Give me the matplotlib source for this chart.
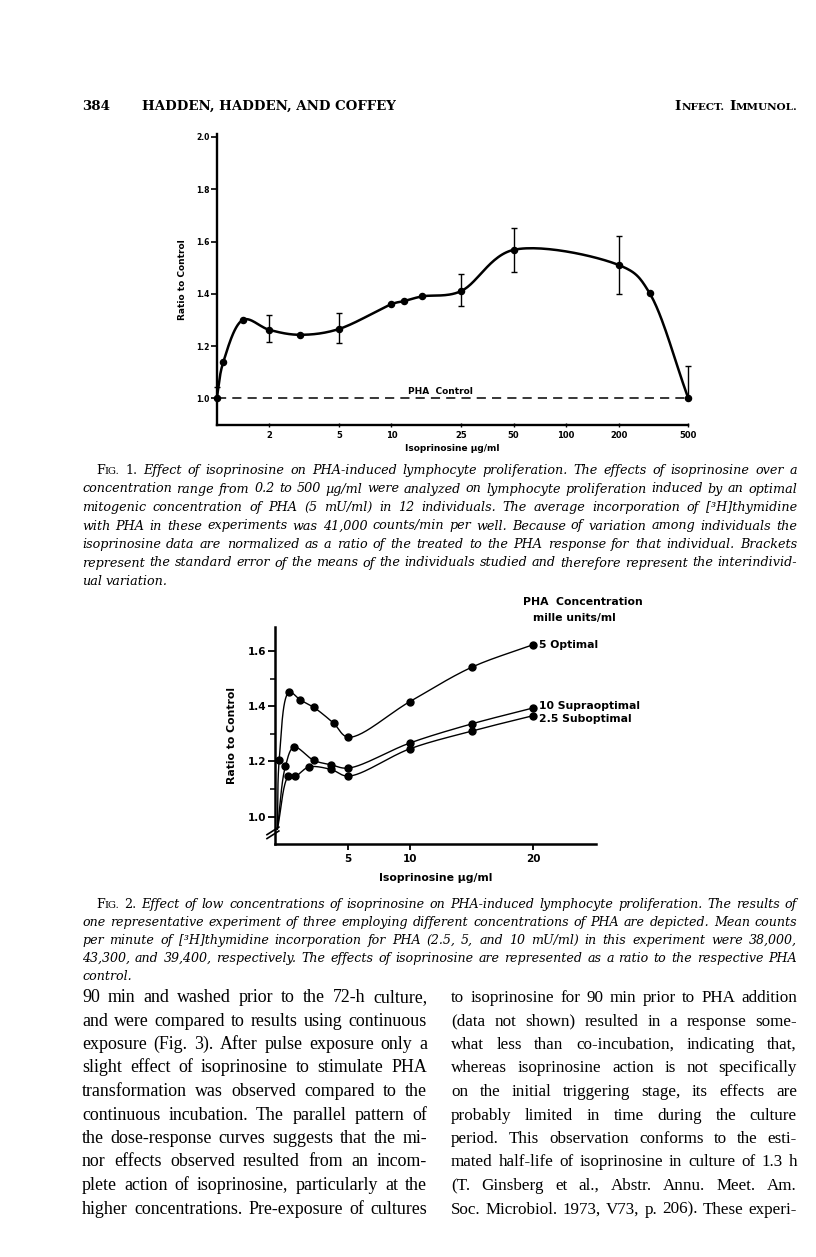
import numpy as np
import matplotlib.pyplot as plt

W, H = 816, 1257

# ---------------- Fig. 1 data ----------------
conc1 = [1.0, 1.09, 1.41, 2, 3, 5, 10, 11.8, 15, 25, 50, 200, 300, 500]
ratio1 = [1.00, 1.138, 1.30, 1.262, 1.243, 1.265, 1.36, 1.372, 1.39, 1.41, 1.568, 1.51, 1.403, 1.00]
err1_lo = [0, 0, 0, 0.045, 0, 0.053, 0, 0, 0, 0.058, 0.084, 0.11, 0, 0]
err1_hi = [0.045, 0, 0, 0.058, 0, 0.062, 0, 0, 0, 0.065, 0.082, 0.11, 0, 0.125]
xticks1 = [2, 5, 10, 25, 50, 100, 200, 500]
yticks1 = [1.0, 1.2, 1.4, 1.6, 1.8, 2.0]

# ---------------- Fig. 2 data ----------------
start2 = (-0.75, 0.955)   # common start of the curves at the axis break
x_opt = [-0.6, 0.2, 1.1, 2.2, 3.8, 5, 10, 15, 20]
y_opt = [1.207, 1.451, 1.423, 1.396, 1.339, 1.288, 1.417, 1.541, 1.623]
x_sup = [-0.1, 0.6, 2.2, 3.6, 5, 10, 15, 20]
y_sup = [1.182, 1.252, 1.204, 1.188, 1.176, 1.267, 1.336, 1.394]
x_sub = [0.15, 0.7, 1.8, 3.6, 5, 10, 15, 20]
y_sub = [1.146, 1.146, 1.18, 1.171, 1.147, 1.246, 1.31, 1.366]
labels2 = ['5 Optimal', '10 Supraoptimal', '2.5 Suboptimal']
xticks2 = [5, 10, 20]
yticks2 = [1.0, 1.2, 1.4, 1.6]

cap1 = [
    "FIG. 1. Effect of isoprinosine on PHA-induced lymphocyte proliferation. The effects of isoprinosine over a",
    "concentration range from 0.2 to 500 µg/ml were analyzed on lymphocyte proliferation induced by an optimal",
    "mitogenic concentration of PHA (5 mU/ml) in 12 individuals. The average incorporation of [³H]thymidine",
    "with PHA in these experiments was 41,000 counts/min per well. Because of variation among individuals the",
    "isoprinosine data are normalized as a ratio of the treated to the PHA response for that individual. Brackets",
    "represent the standard error of the means of the individuals studied and therefore represent the interindivid-",
    "ual variation.",
]
cap2 = [
    "FIG. 2. Effect of low concentrations of isoprinosine on PHA-induced lymphocyte proliferation. The results of",
    "one representative experiment of three employing different concentrations of PHA are depicted. Mean counts",
    "per minute of [³H]thymidine incorporation for PHA (2.5, 5, and 10 mU/ml) in this experiment were 38,000,",
    "43,300, and 39,400, respectively. The effects of isoprinosine are represented as a ratio to the respective PHA",
    "control.",
]
col_left = [
    "90 min and washed prior to the 72-h culture,",
    "and were compared to results using continuous",
    "exposure (Fig. 3). After pulse exposure only a",
    "slight effect of isoprinosine to stimulate PHA",
    "transformation was observed compared to the",
    "continuous incubation. The parallel pattern of",
    "the dose-response curves suggests that the mi-",
    "nor effects observed resulted from an incom-",
    "plete action of isoprinosine, particularly at the",
    "higher concentrations. Pre-exposure of cultures",
]
col_right = [
    "to isoprinosine for 90 min prior to PHA addition",
    "(data not shown) resulted in a response some-",
    "what less than co-incubation, indicating that,",
    "whereas isoprinosine action is not specifically",
    "on the initial triggering stage, its effects are",
    "probably limited in time during the culture",
    "period. This observation conforms to the esti-",
    "mated half-life of isoprinosine in culture of 1.3 h",
    "(T. Ginsberg et al., Abstr. Annu. Meet. Am.",
    "Soc. Microbiol. 1973, V73, p. 206). These experi-",
]

fig = plt.figure(figsize=(W / 100, H / 100), dpi=100)
fig.patch.set_facecolor('white')
rend = fig.canvas.get_renderer()
SANS = 'DejaVu Sans'
SERIF = 'DejaVu Serif'
BODY = 'Liberation Serif'


def box(x0, x1, top, bottom):
    return [x0 / W, 1 - bottom / H, (x1 - x0) / W, (bottom - top) / H]


def catmull(ax, xs, ys, n=30, alpha=0.5):
    # centripetal Catmull-Rom through the points, done in pixel space
    P = ax.transData.transform(np.column_stack([xs, ys]))
    P = np.vstack([2 * P[0] - P[1], P, 2 * P[-1] - P[-2]])
    out = []
    for i in range(len(P) - 3):
        p0, p1, p2, p3 = P[i:i + 4]
        t0 = 0.0
        t1 = t0 + np.linalg.norm(p1 - p0) ** alpha
        t2 = t1 + np.linalg.norm(p2 - p1) ** alpha
        t3 = t2 + np.linalg.norm(p3 - p2) ** alpha
        t = np.linspace(t1, t2, n)[:, None]
        a1 = (t1 - t) / (t1 - t0) * p0 + (t - t0) / (t1 - t0) * p1
        a2 = (t2 - t) / (t2 - t1) * p1 + (t - t1) / (t2 - t1) * p2
        a3 = (t3 - t) / (t3 - t2) * p2 + (t - t2) / (t3 - t2) * p3
        b1 = (t2 - t) / (t2 - t0) * a1 + (t - t0) / (t2 - t0) * a2
        b2 = (t3 - t) / (t3 - t1) * a2 + (t - t1) / (t3 - t1) * a3
        c = (t2 - t) / (t2 - t1) * b1 + (t - t1) / (t2 - t1) * b2
        out.append(c if i == 0 else c[1:])
    D = ax.transData.inverted().transform(np.vstack(out))
    return D[:, 0], D[:, 1]


def width_of(s, size, style='normal', weight='normal', family=SERIF):
    t = fig.text(0, 0, s, fontsize=size, style=style, weight=weight, family=family)
    w = t.get_window_extent(rend).width
    t.remove()
    return w


def word_pieces(w, size, style):
    # small caps for "FIG."
    if w == 'FIG.':
        return [('F', size, 'normal'), ('IG.', size * 0.78, 'normal')]
    if w in ('1.', '2.'):
        return [(w, size, 'normal')]
    return [(w, size, style)]


def paragraph(lines, x0, x1, y0, step, style='normal', indent=0, last_justified=False,
              family=SERIF, fill=0.99):
    # font size so that the widest line just fits
    ratio = 0
    for i, line in enumerate(lines):
        avail = x1 - x0 - (indent if i == 0 else 0)
        ratio = max(ratio, width_of(line, 10, style, family=family) / avail)
    size = 10 * fill / ratio
    space = width_of('a a', size, style, family=family) - width_of('aa', size, style, family=family)
    for i, line in enumerate(lines):
        words = line.split(' ')
        xs = x0 + (indent if i == 0 else 0)
        y = H - (y0 + i * step)
        items = []
        for w in words:
            segs = []
            for s, sz, st in word_pieces(w, size, style):
                t = fig.text(0, y, s, transform=None, fontsize=sz, style=st,
                             family=family, va='baseline', ha='left')
                segs.append((t, t.get_window_extent(rend).width))
            items.append(segs)
        widths = [sum(w for _, w in segs) for segs in items]
        is_last = (i == len(lines) - 1) and not last_justified
        if is_last or len(words) < 2:
            gap = space
        else:
            gap = (x1 - xs - sum(widths)) / (len(words) - 1)
        x = xs
        for segs, wd in zip(items, widths):
            xx = x
            for t, w in segs:
                t.set_x(xx)
                xx += w
            x += wd + gap


# ---------------- running head ----------------
hsize = 9.6
fig.text(82, H - 110, '384', transform=None, fontsize=hsize, family=SERIF, weight='bold', va='baseline')
fig.text(142, H - 110, 'HADDEN, HADDEN, AND COFFEY', transform=None, fontsize=hsize, family=SERIF,
         weight='bold', va='baseline')
parts = [('I', hsize), ('NFECT.', hsize * 0.78), (' ', hsize), ('I', hsize), ('MMUNOL.', hsize * 0.78)]
tot = sum(width_of(p, s, weight='bold') for p, s in parts)
xx = 797 - tot
for p, s in parts:
    fig.text(xx, H - 110, p, transform=None, fontsize=s, family=SERIF, weight='bold', va='baseline')
    xx += width_of(p, s, weight='bold')

# ---------------- Fig. 1 ----------------
ppu1 = 398.3 - 137.0
ax1 = fig.add_axes(box(216.7, 688.3, 137.0 - 0.01 * ppu1, 425.0))
ax1.set_xscale('log')
ax1.set_xlim(1.0, 500)
ax1.set_ylim(1.0 - (425.0 - 398.3) / ppu1, 2.01)
for s in ('top', 'right'):
    ax1.spines[s].set_visible(False)
for s in ('left', 'bottom'):
    ax1.spines[s].set_linewidth(1.7)
ax1.set_xticks(xticks1)
ax1.set_xticklabels([str(v) for v in xticks1])
ax1.xaxis.set_minor_locator(plt.NullLocator())
ax1.set_yticks(yticks1)
ax1.set_yticklabels(['%.1f' % v for v in yticks1])
ax1.tick_params(axis='y', direction='out', length=4, width=1.2, labelsize=5.5, pad=1)
ax1.tick_params(axis='x', direction='inout', length=3, width=1.0, labelsize=6, pad=3)
for lab in ax1.get_xticklabels() + ax1.get_yticklabels():
    lab.set_fontweight('bold')
    lab.set_family(SANS)
ax1.set_ylabel('Ratio to Control', fontsize=6.5, weight='bold', family=SANS, labelpad=7)
ax1.set_xlabel('Isoprinosine µg/ml', fontsize=6.5, weight='bold', family=SANS, labelpad=3)
ax1.axhline(1.0, color='black', lw=1.1, dashes=(6, 4), zorder=1)
ax1.text(19, 1.008, 'PHA  Control', fontsize=6.5, weight='bold', family=SANS, ha='center', va='bottom')
sx, sy = catmull(ax1, conc1, ratio1, alpha=0.3)
ax1.plot(sx, sy, color='black', lw=1.8, solid_capstyle='round')
ax1.errorbar(conc1, ratio1, yerr=[err1_lo, err1_hi], fmt='o', color='black', ms=4.4,
             elinewidth=1.0, capsize=2.2, capthick=1.0, clip_on=False, zorder=3)

# ---------------- Fig. 2 ----------------
ppu2 = (816.7 - 651.0) / 0.6
ppx2 = (533.3 - 348.3) / 15.0
ax2 = fig.add_axes(box(275.0, 596.0, 627.0, 844.0))
ax2.set_xlim(5 - (348.3 - 275.0) / ppx2, 20 + (596.0 - 533.3) / ppx2)
ax2.set_ylim(1.0 - (844.0 - 816.7) / ppu2, 1.6 + (651.0 - 627.0) / ppu2)
for s in ('top', 'right'):
    ax2.spines[s].set_visible(False)
for s in ('left', 'bottom'):
    ax2.spines[s].set_linewidth(1.8)
ax2.set_xticks(xticks2)
ax2.set_xticklabels([str(v) for v in xticks2])
ax2.set_yticks(yticks2)
ax2.set_yticklabels(['%.1f' % v for v in yticks2])
ax2.set_yticks([1.1, 1.3, 1.5], minor=True)
ax2.tick_params(axis='y', which='major', direction='out', length=5, width=1.3, labelsize=7.5, pad=1)
ax2.tick_params(axis='y', which='minor', direction='out', length=3.5, width=1.1)
ax2.tick_params(axis='x', direction='out', length=4, width=1.3, labelsize=7.5, pad=3)
for lab in ax2.get_xticklabels() + ax2.get_yticklabels():
    lab.set_fontweight('bold')
    lab.set_family(SANS)
ax2.set_ylabel('Ratio to Control', fontsize=7.8, weight='bold', family=SANS, labelpad=8)
ax2.set_xlabel('Isoprinosine µg/ml', fontsize=7.8, weight='bold', family=SANS, labelpad=7)

series2 = [(x_opt, y_opt, (4, 0)), (x_sup, y_sup, (4, 1.5)), (x_sub, y_sub, (4, -2.5))]
for (xs, ys, off), lab in zip(series2, labels2):
    cx, cy = catmull(ax2, [start2[0]] + xs, [start2[1]] + ys)
    ax2.plot(cx, cy, color='black', lw=1.0, clip_on=False)
    ax2.plot(xs, ys, 'o', color='black', ms=5.0, clip_on=False)
    ax2.annotate(lab, (xs[-1], ys[-1]), xytext=off, textcoords='offset points',
                 fontsize=7.8, weight='bold', family=SANS, va='center', ha='left',
                 annotation_clip=False)
ax2.text(20 + (523 - 533.3) / ppx2, 1.6 + (651.0 - 602) / ppu2, 'PHA  Concentration',
         fontsize=7.8, weight='bold', family=SANS, ha='left', va='center')
ax2.text(20 + (533 - 533.3) / ppx2, 1.6 + (651.0 - 618) / ppu2, 'mille units/ml',
         fontsize=7.8, weight='bold', family=SANS, ha='left', va='center')
# axis break marks
for dy in (0.0, 0.018):
    ax2.plot([-0.025, 0.012], [0.025 + dy, 0.06 + dy], transform=ax2.transAxes,
             color='black', lw=1.2, clip_on=False)

# ---------------- captions and body text ----------------
paragraph(cap1, 82, 797, 474, 18.5, style='italic', indent=14)
paragraph(cap2, 82, 797, 908, 18.0, style='italic', indent=14)
paragraph(col_left, 82, 427, 1002, 23.5, last_justified=True, family=BODY, fill=0.975)
paragraph(col_right, 451, 797, 1002, 23.5, last_justified=True, family=BODY, fill=0.975)

fig.savefig('out.png', dpi=100, facecolor='white')
